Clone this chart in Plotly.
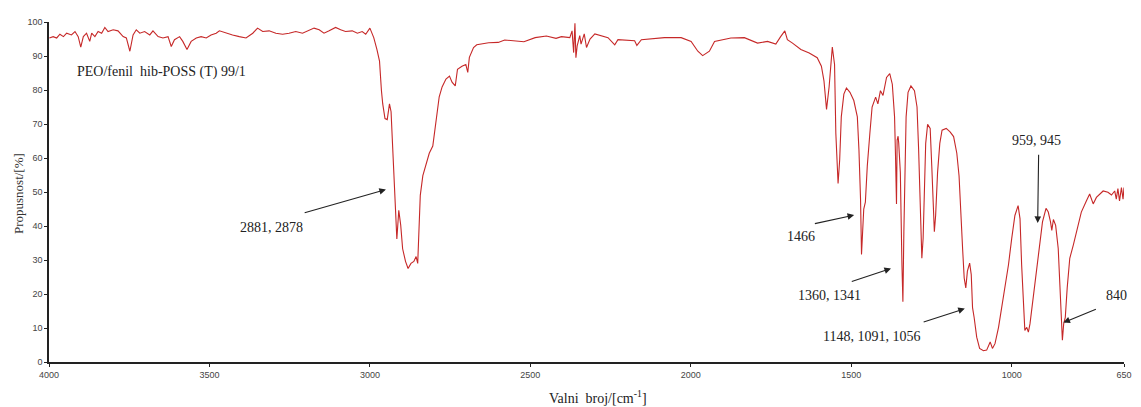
"""FTIR spektar PEO/fenil hib-POSS (T) 99/1, plotly."""
import plotly.graph_objects as go

# valni broj [cm-1] i propusnost [%], očitano sa slike
wavenumber = [
    3999, 3987, 3976, 3966, 3955, 3945, 3930, 3919, 3909, 3901, 3893, 3883, 3873, 3867,
    3857, 3847, 3836, 3826, 3816, 3800, 3785, 3769, 3759, 3748, 3738, 3728, 3717, 3702,
    3686, 3676, 3660, 3645, 3629, 3619, 3609, 3593, 3583, 3570, 3557, 3541, 3526, 3510,
    3495, 3479, 3469, 3448, 3428, 3407, 3386, 3365, 3350, 3334, 3314, 3293, 3272, 3252,
    3231, 3210, 3189, 3174, 3158, 3143, 3127, 3107, 3091, 3076, 3055, 3039, 3024, 3013,
    3000, 2988, 2978, 2970, 2964, 2960, 2953, 2946, 2939, 2934, 2931, 2928, 2923, 2920,
    2916, 2910, 2904, 2898, 2889, 2881, 2872, 2863, 2856, 2851, 2848, 2843, 2835, 2827,
    2815, 2804, 2798, 2791, 2784, 2775, 2763, 2752, 2744, 2734, 2727, 2713, 2701, 2695,
    2690, 2677, 2667, 2630, 2600, 2580, 2548, 2520, 2485, 2450, 2420, 2403, 2377, 2370,
    2365, 2361, 2358, 2354, 2346, 2342, 2332, 2325, 2314, 2299, 2258, 2237, 2227, 2175,
    2168, 2154, 2082, 2030, 1999, 1978, 1963, 1942, 1926, 1875, 1833, 1792, 1761, 1735,
    1720, 1707, 1699, 1683, 1657, 1631, 1606, 1593, 1585, 1577, 1569, 1559, 1552, 1548,
    1541, 1536, 1531, 1523, 1515, 1504, 1492, 1481, 1476, 1471, 1468, 1464, 1461, 1456,
    1450, 1442, 1435, 1424, 1417, 1409, 1401, 1390, 1380, 1372, 1365, 1362, 1359, 1357,
    1354, 1352, 1347, 1342, 1339, 1336, 1333, 1329, 1323, 1314, 1303, 1295, 1290, 1285,
    1280, 1276, 1272, 1268, 1262, 1254, 1249, 1245, 1241, 1237, 1231, 1224, 1217, 1204,
    1192, 1181, 1171, 1164, 1158, 1153, 1148, 1143, 1138, 1131, 1126, 1122, 1117, 1109,
    1100, 1088, 1078, 1067, 1060, 1052, 1041, 1026, 1010, 1000, 990, 980, 974, 969,
    964, 959, 953, 948, 943, 933, 922, 912, 904, 893, 886, 879, 875, 870,
    863, 855, 850, 845, 842, 838, 833, 827, 819, 808, 798, 783, 767, 757,
    746, 736, 715, 700, 689, 679, 674, 669, 664, 658, 653, 650,
]
transmittance = [
    95.3, 95.7, 95.3, 96.4, 95.7, 96.7, 96.2, 97.2, 95.7, 92.6, 95.7, 96.7, 94.3, 96.7,
    95.7, 97.2, 96.7, 98.4, 97.2, 97.7, 97.4, 95.7, 95.3, 91.4, 96.2, 97.7, 96.7, 97.2,
    96.2, 97.4, 95.7, 95.3, 95.7, 92.8, 94.8, 95.7, 94.3, 91.9, 94.3, 95.3, 95.7, 95.3,
    96.2, 96.7, 97.4, 96.7, 96.2, 95.7, 95.3, 96.7, 98.2, 97.2, 97.4, 96.7, 96.4, 96.7,
    97.2, 96.7, 97.7, 98.2, 97.7, 96.7, 97.4, 98.4, 97.7, 97.2, 97.4, 96.7, 97.2, 96.4,
    98.2, 95.4, 91.9, 88.5, 79.8, 75.9, 71.6, 71.3, 75.9, 73.6, 67.2, 60.6, 50.7, 43.2,
    36.2, 44.6, 40.3, 33.3, 29.6, 27.5, 29.0, 29.6, 31.0, 29.0, 37.4, 49.0, 54.8, 57.7,
    61.4, 63.5, 68.1, 73.0, 78.0, 80.9, 83.2, 84.1, 82.3, 81.2, 86.1, 87.0, 87.5, 85.2,
    89.6, 92.5, 93.3, 93.9, 94.0, 94.7, 94.5, 94.2, 95.4, 95.9, 95.2, 95.7, 95.4, 97.4,
    91.0, 99.6, 89.5, 93.0, 96.0, 93.5, 96.5, 92.5, 95.0, 96.5, 95.4, 93.3, 94.8, 94.5,
    93.1, 94.8, 95.4, 95.4, 94.3, 91.4, 90.1, 91.4, 94.3, 95.3, 95.4, 93.8, 94.3, 93.5,
    95.7, 97.4, 94.8, 93.8, 91.9, 90.9, 89.5, 87.0, 82.7, 74.3, 80.9, 92.6, 87.5, 67.2,
    52.5, 59.5, 72.1, 78.8, 80.6, 79.3, 76.9, 72.1, 62.4, 47.9, 31.6, 38.3, 45.0, 47.0,
    57.6, 67.2, 75.0, 77.9, 75.9, 79.8, 78.4, 83.7, 84.8, 81.7, 72.1, 60.5, 46.5, 65.3,
    66.4, 64.3, 55.7, 28.6, 17.7, 38.3, 57.6, 72.1, 79.3, 81.2, 79.8, 75.0, 62.4, 43.1,
    30.5, 36.3, 52.8, 64.3, 69.9, 68.7, 57.6, 46.0, 38.3, 43.1, 55.7, 64.3, 68.2, 68.7,
    67.7, 66.3, 61.4, 54.7, 45.0, 33.4, 24.7, 21.8, 26.7, 29.1, 25.7, 16.0, 13.1, 7.3,
    4.0, 3.3, 3.5, 5.9, 4.0, 5.4, 10.2, 18.9, 28.6, 36.3, 43.1, 46.0, 42.1, 28.6,
    16.0, 9.3, 10.2, 8.8, 11.2, 18.9, 26.7, 34.4, 41.2, 45.2, 44.1, 41.2, 38.7, 41.9,
    40.2, 33.4, 23.8, 13.1, 6.4, 11.2, 13.1, 21.8, 30.5, 34.4, 38.3, 44.1, 47.4, 49.4,
    46.5, 48.4, 50.3, 49.9, 49.1, 50.3, 47.9, 51.0, 47.4, 51.3, 47.9, 51.3,
]

x_ticks = [4000, 3500, 3000, 2500, 2000, 1500, 1000, 650]
y_ticks = [0, 10, 20, 30, 40, 50, 60, 70, 80, 90, 100]

# oznake pikova: tekst, položaj teksta, rep i vrh strelice
peak_labels = ["2881, 2878", "1466", "1360, 1341", "1148, 1091, 1056", "840", "959, 945"]
label_pos = [(3307, 39.7), (1658, 36.8), (1568, 19.7), (1438, 7.5), (674, 19.7), (922, 65.2)]
arrow_tail = [(3208, 43.8), (1618, 40.6), (1503, 23.5), (1279, 11.6), (733, 15.7), (916, 61.4)]
arrow_head = [(2950, 50.7), (1491, 43.2), (1376, 27.5), (1146, 15.7), (839, 11.6), (919, 40.9)]

SERIF = "Liberation Serif, Times New Roman, serif"
SANS = "Liberation Sans, Arial, sans-serif"

fig = go.Figure()
fig.add_trace(go.Scatter(
    x=wavenumber, y=transmittance, mode="lines",
    line=dict(color="#c62828", width=1.1), showlegend=False,
))

annotations = [
    dict(x=3919, y=85.2, xref="x", yref="y", text="PEO/fenil\u00a0 hib-POSS (T) 99/1",
         showarrow=False, xanchor="left", font=dict(family=SERIF, size=14, color="#222")),
    dict(x=0, y=0.494, xref="paper", yref="paper", xshift=-31, xanchor="center",
         yanchor="middle", text="Propusnost/[%]", textangle=-90, showarrow=False,
         font=dict(family=SERIF, size=13, color="#333")),
    dict(x=2290, y=0, xref="x", yref="paper", yshift=-35, yanchor="middle",
         text="Valni\u00a0 broj/[cm<sup>-1</sup>]", showarrow=False,
         font=dict(family=SERIF, size=14, color="#222")),
]
for text, (tx, ty) in zip(peak_labels, label_pos):
    annotations.append(dict(x=tx, y=ty, xref="x", yref="y", text=text, showarrow=False,
                            font=dict(family=SERIF, size=14, color="#222")))
for (ax, ay), (hx, hy) in zip(arrow_tail, arrow_head):
    annotations.append(dict(x=hx, y=hy, ax=ax, ay=ay, xref="x", yref="y", axref="x", ayref="y",
                            text="", showarrow=True, arrowhead=2, arrowsize=1.2,
                            arrowwidth=1.1, arrowcolor="#222"))

# stranica ima 8 px ruba, pa je figura za toliko manja
fig.update_layout(
    width=1133, height=399,
    margin=dict(l=41, r=13, t=9, b=45),
    paper_bgcolor="white", plot_bgcolor="white",
    annotations=annotations,
)
fig.update_xaxes(
    range=[4000, 650], tickvals=x_ticks, ticks="outside", ticklen=3, tickcolor="#222",
    showline=True, linecolor="#222", linewidth=1.5, showgrid=False, zeroline=False,
    tickfont=dict(family=SANS, size=9, color="#444"),
)
fig.update_yaxes(
    range=[0, 100], tickvals=y_ticks, ticks="outside", ticklen=3, tickcolor="#222",
    showline=True, linecolor="#222", linewidth=1.5, showgrid=False, zeroline=False,
    tickfont=dict(family=SANS, size=9, color="#444"),
)

fig.write_html("out.html")
